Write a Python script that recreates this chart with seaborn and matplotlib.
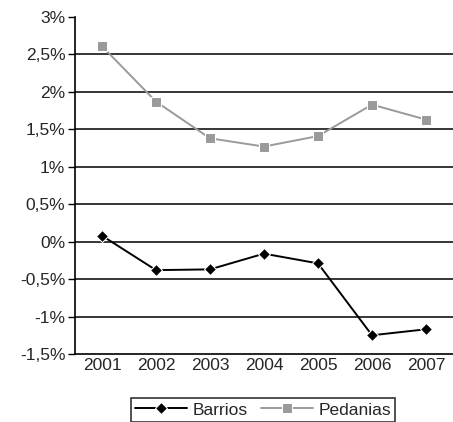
import numpy as np
import pandas as pd
import seaborn as sns
import matplotlib.pyplot as plt
from matplotlib.ticker import FixedLocator

years = ["2001", "2002", "2003", "2004", "2005", "2006", "2007"]
barrios = [0.08, -0.38, -0.37, -0.16, -0.29, -1.25, -1.17]
pedanias = [2.61, 1.87, 1.38, 1.27, 1.41, 1.83, 1.63]
ytick_vals = [-1.5, -1.0, -0.5, 0.0, 0.5, 1.0, 1.5, 2.0, 2.5, 3.0]
ytick_labels = ["-1,5%", "-1%", "-0,5%", "0%", "0,5%", "1%", "1,5%", "2%", "2,5%", "3%"]

df = pd.DataFrame({
    "x": list(range(len(years))) * 2,
    "valor": barrios + pedanias,
    "serie": ["Barrios"] * len(years) + ["Pedanias"] * len(years),
})

sns.set_style("white")
plt.rcParams["font.family"] = ["Liberation Sans", "DejaVu Sans"]

fig = plt.figure(figsize=(4.53, 4.22), dpi=100)
ax = fig.add_axes([75 / 453, 68 / 422, 378 / 453, 337 / 422])

sns.lineplot(data=df, x="x", y="valor", hue="serie", style="serie",
             palette={"Barrios": "black", "Pedanias": "#9a9a9a"},
             markers={"Barrios": "D", "Pedanias": "s"}, dashes=False,
             markersize=6.5, linewidth=1.4, ax=ax, legend=True)

# horizontal grid lines
for v in ytick_vals[1:-1]:
    ax.axhline(v, color="black", linewidth=1.1, zorder=0)

ax.set_xlim(-0.5, 6.5)
ax.set_ylim(-1.5, 3.0)
ax.set_yticks(ytick_vals)
ax.set_yticklabels(ytick_labels, fontsize=12.5)
ax.set_xticks(range(len(years)))
ax.set_xticklabels(years, fontsize=12.5)
ax.xaxis.set_minor_locator(FixedLocator(np.arange(0.5, 6.5, 1.0)))
ax.tick_params(axis="x", which="major", length=0, pad=3)
ax.tick_params(axis="x", which="minor", length=4, width=0.8, direction="out", color="#555555")
ax.tick_params(axis="y", length=5, width=1, direction="out", color="black", left=True, pad=2)
ax.set_xlabel("")
ax.set_ylabel("")

for s in ["top", "right"]:
    ax.spines[s].set_visible(False)
for s in ["left", "bottom"]:
    ax.spines[s].set_color("black")
    ax.spines[s].set_linewidth(1.2)

leg = ax.legend(loc="upper center", bbox_to_anchor=(188 / 378, -0.105), ncol=2,
                frameon=True, fancybox=False, edgecolor="black", fontsize=12.5,
                handlelength=3.0, columnspacing=0.8, borderpad=0.25, handletextpad=0.3)
leg.get_frame().set_linewidth(1.2)

fig.savefig("out.png", dpi=100)
